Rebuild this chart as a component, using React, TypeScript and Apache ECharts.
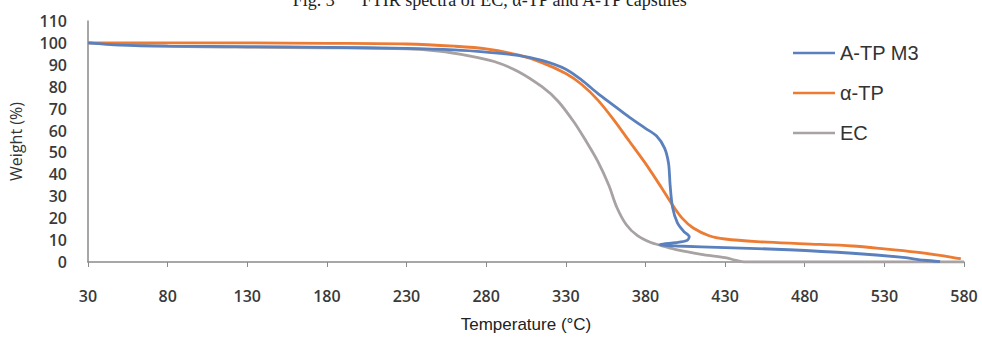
import React, { useEffect, useRef } from "react";
import * as echarts from "echarts";

const seriesNames = ["A-TP M3", "α-TP", "EC"];
const seriesColors = ["#5A80BE", "#EC7C34", "#A8A2A2"];

const xTicks = [30, 80, 130, 180, 230, 280, 330, 380, 430, 480, 530, 580];

const atpM3: [number, number][] = [
  [30, 100], [50, 99], [80, 98.5], [130, 98.3], [180, 98], [230, 97.5], [260, 96.8],
  [280, 95.8], [300, 94.3], [315, 92], [330, 88], [340, 83], [350, 77], [360, 71.5],
  [370, 66], [380, 61], [387, 57.5], [392, 52], [394.5, 45], [395.5, 35], [397, 25],
  [400, 18], [404, 14], [407.5, 11.5], [406, 9.8], [399, 8.8], [391, 8.2], [389, 7.8],
  [400, 7.3], [430, 6.6], [470, 5.6], [510, 4], [540, 2.2], [555, 0.8], [565, 0.2],
];

const alphaTP: [number, number][] = [
  [30, 100], [80, 100], [130, 100], [180, 99.8], [230, 99.5], [260, 98.5], [280, 97.3],
  [300, 94.5], [315, 91], [330, 86], [340, 81], [350, 74], [360, 65], [370, 55],
  [380, 45], [390, 34], [397, 26], [403, 20], [410, 15.5], [420, 12], [430, 10.5],
  [450, 9.3], [480, 8.3], [510, 7.3], [530, 6], [550, 4.5], [565, 3], [575, 1.8], [578, 1.5],
];

const ec: [number, number][] = [
  [30, 100], [80, 98.5], [130, 98], [180, 97.8], [230, 97.3], [250, 96.3], [270, 94],
  [285, 91.5], [300, 87], [315, 80], [325, 73.5], [335, 64], [342, 56], [350, 46],
  [357, 35], [362, 25], [368, 17], [375, 12], [383, 9], [390, 7.5], [400, 5.5],
  [415, 3.5], [430, 2], [437, 0.7], [442, 0], [580, 0],
];

const seriesData = [atpM3, alphaTP, ec];

export default function App() {
  const ref = useRef<HTMLDivElement>(null);
  useEffect(() => {
    if (!ref.current) return;
    const chart = echarts.init(ref.current, null, { renderer: "svg" });
    chart.setOption({
      animation: false,
      backgroundColor: "#ffffff",
      grid: { left: 85, right: 18, top: 21, bottom: 68, containLabel: false },
      graphic: [
        {
          type: "text",
          left: "center",
          top: -9,
          style: {
            text: "Fig. 3      FTIR spectra of EC, α-TP and A-TP capsules",
            font: '18px "Liberation Serif", serif',
            fill: "#222",
          },
        },
      ],
      legend: {
        orient: "vertical",
        left: 788,
        top: 38,
        itemWidth: 42,
        itemHeight: 10,
        itemGap: 20,
        icon: "path://M0,4 L42,4 L42,6.5 L0,6.5 Z",
        textStyle: { fontFamily: '"Liberation Sans", Arial, sans-serif', fontSize: 20, color: "#333" },
        data: seriesNames,
      },
      xAxis: {
        type: "value",
        min: 30,
        max: 580,
        name: "Temperature (°C)",
        nameLocation: "middle",
        nameGap: 54,
        nameTextStyle: { fontFamily: '"Liberation Sans", Arial, sans-serif', fontSize: 17, color: "#222" },
        axisLine: { show: true, lineStyle: { color: "#8a8a8a", width: 1.5 } },
        axisTick: { show: true, length: 5, customValues: xTicks, lineStyle: { color: "#8a8a8a" } },
        axisLabel: {
          customValues: xTicks,
          margin: 26,
          fontFamily: '"Open Sans", sans-serif',
          fontWeight: 600,
          fontSize: 16,
          color: "#3a3a3a",
        },
        splitLine: { show: false },
      },
      yAxis: {
        type: "value",
        min: 0,
        max: 110,
        interval: 10,
        name: "Weight (%)",
        nameLocation: "middle",
        nameGap: 64,
        nameTextStyle: { fontFamily: '"Open Sans", sans-serif', fontSize: 16, color: "#333" },
        axisLine: { show: true, lineStyle: { color: "#8a8a8a", width: 1.5 } },
        axisTick: { show: false },
        axisLabel: {
          margin: 21,
          fontFamily: '"Open Sans", sans-serif',
          fontWeight: 600,
          fontSize: 16,
          color: "#3a3a3a",
        },
        splitLine: { show: false },
      },
      series: seriesNames.map((name, i) => ({
        name,
        type: "line",
        data: seriesData[i],
        symbol: "none",
        smooth: 0.3,
        z: 3 - i,
        lineStyle: { color: seriesColors[i], width: 2.8 },
        itemStyle: { color: seriesColors[i] },
      })),
    });
    return () => chart.dispose();
  }, []);
  return <div ref={ref} style={{ width: 982, height: 338, position: "absolute", left: 0, top: 0 }} />;
}
